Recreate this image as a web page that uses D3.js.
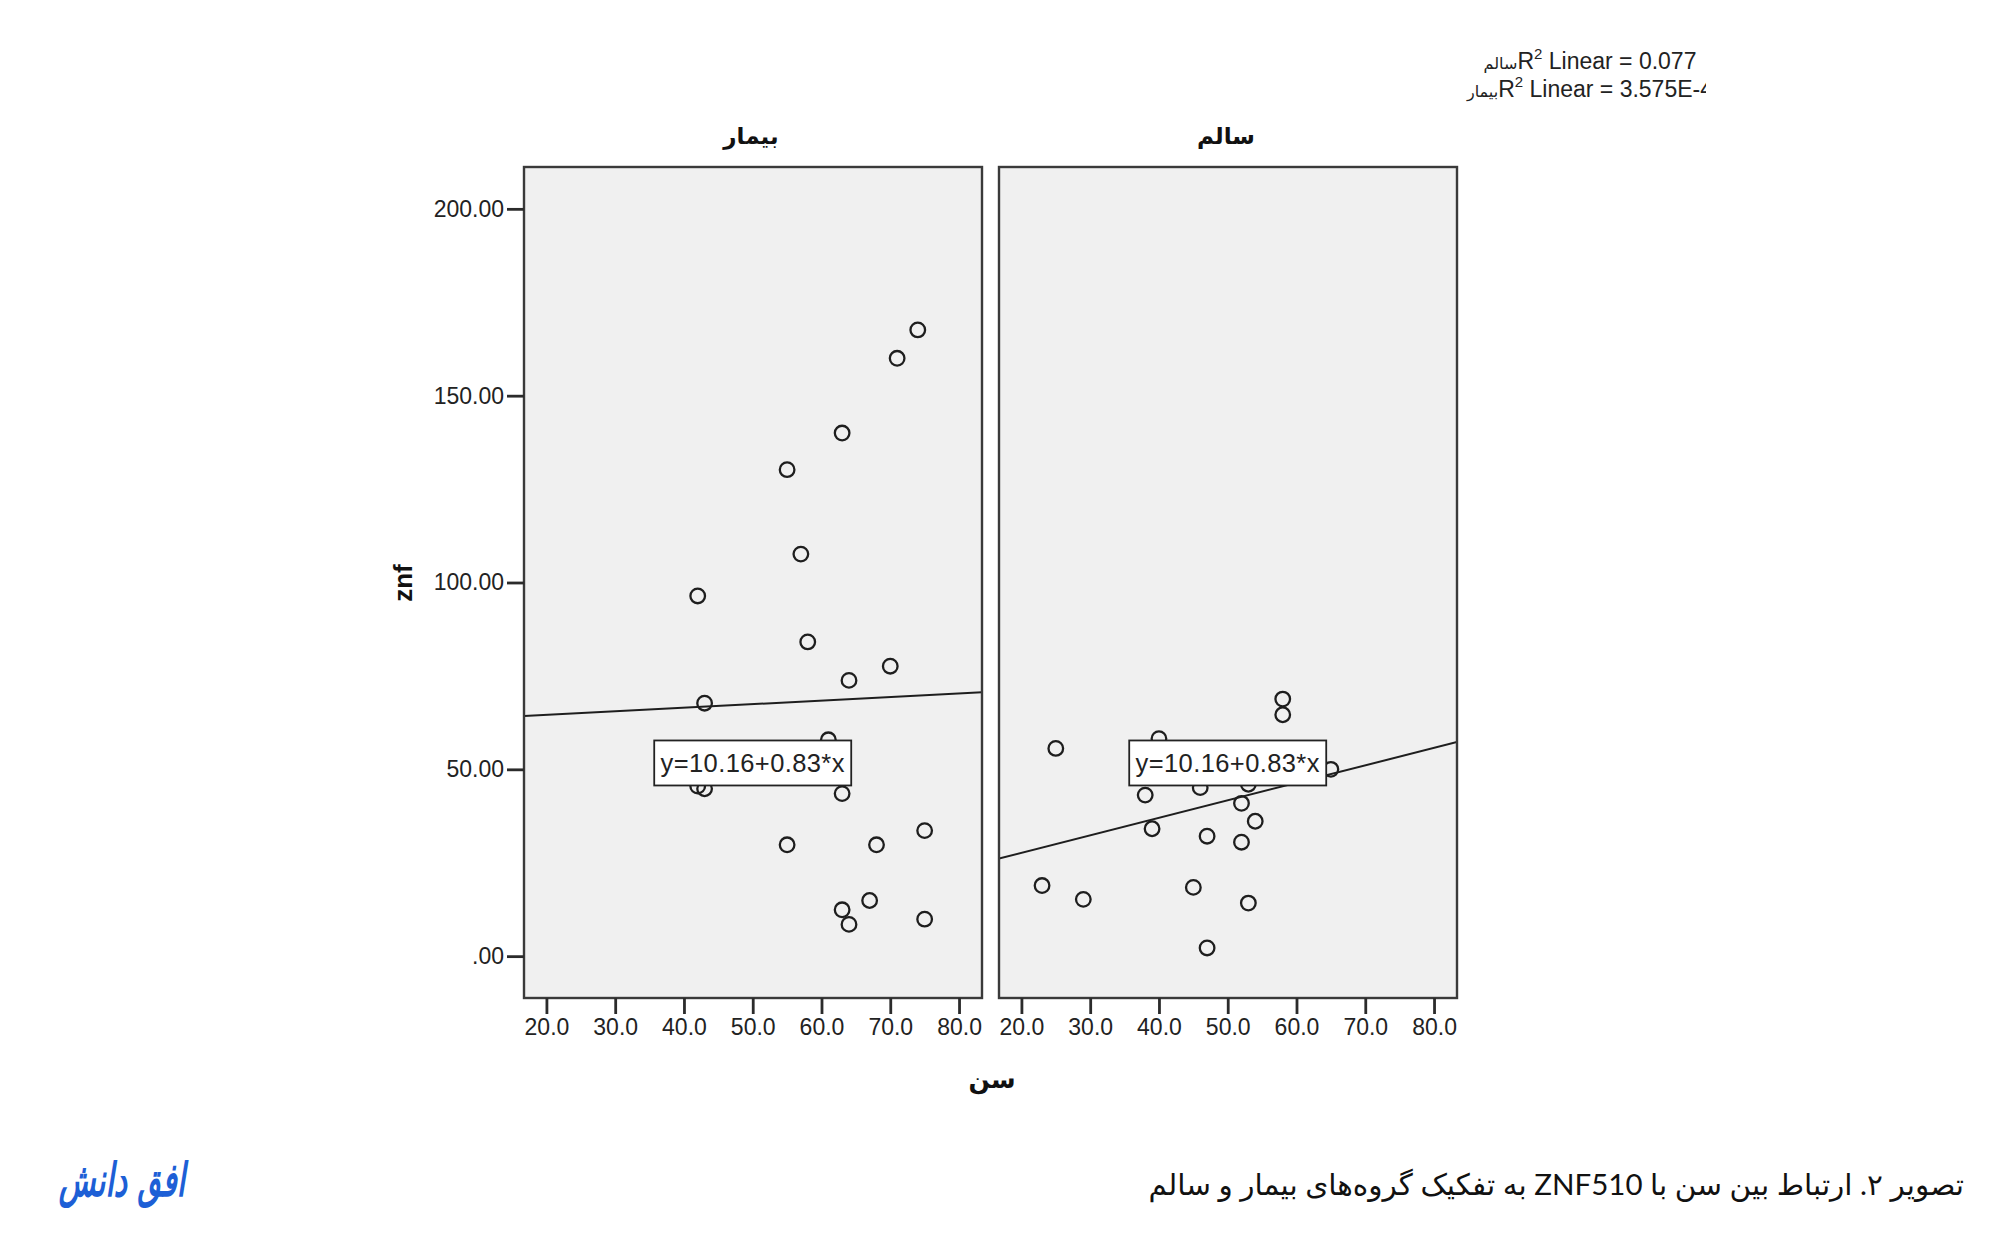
<!DOCTYPE html>
<html><head><meta charset="utf-8">
<script src="https://cdn.jsdelivr.net/npm/d3@7"></script>
<style>body{margin:0;background:#fff} svg{display:block}</style>
</head><body>
<svg id="c" width="2000" height="1259"></svg>
<script>
// ---------- data ----------
const panelNames = ["بیمار", "سالم"];
const patientAge = [74, 71, 63, 55, 57, 42, 58, 70, 64, 43, 61, 42, 43, 63, 55, 68, 75, 67, 63, 64, 75];
const patientZnf = [167.6, 160.0, 140.0, 130.2, 107.6, 96.4, 84.1, 77.6, 73.8, 67.7, 57.9, 45.5, 44.8, 43.5, 29.8, 29.8, 33.6, 14.9, 12.4, 8.5, 9.9];
const healthyAge = [58, 58, 25, 40, 65, 38, 46, 53, 52, 54, 39, 47, 52, 23, 29, 45, 53, 47];
const healthyZnf = [68.8, 64.6, 55.6, 58.2, 50.0, 43.1, 45.1, 46.0, 40.9, 36.1, 34.1, 32.1, 30.5, 18.9, 15.2, 18.4, 14.2, 2.2];
const fitIntercept = [62.7, 18.3];
const fitSlope = [0.095, 0.468];
const fitLabel = "y=10.16+0.83*x";
const fitLabelAt = [50, 51.7];
const legendGroups = ["سالم", "بیمار"];
const legendValues = ["0.077", "3.575E-4"];
const xTicks = [20, 30, 40, 50, 60, 70, 80];
const xTickLabels = ["20.0", "30.0", "40.0", "50.0", "60.0", "70.0", "80.0"];
const yTicks = [0, 50, 100, 150, 200];
const yTickLabels = [".00", "50.00", "100.00", "150.00", "200.00"];
const xTitle = "سن";
const yTitle = "znf";
const caption = "تصویر ۲. ارتباط بین سن با ZNF510 به تفکیک گروه‌های بیمار و سالم";
const logoText = "افق دانش";

// ---------- layout ----------
const svg = d3.select("#c");
const panelX0 = [524, 999];
const panelW = 458, panelTop = 167, panelBottom = 998;
const xDomain = [16.74, 83.34];
const yDomain = [-11.2, 211.2];
const FONT = "'Liberation Sans', Arial, 'DejaVu Sans', sans-serif";
const ink = "#2b2b2b";

const y = d3.scaleLinear().domain(yDomain).range([panelBottom, panelTop]);

const seriesAge = [patientAge, healthyAge];
const seriesZnf = [patientZnf, healthyZnf];

const defs = svg.append("defs");

panelX0.forEach((x0, p) => {
  const x = d3.scaleLinear().domain(xDomain).range([x0, x0 + panelW]);
  const clipId = "clip" + p;
  defs.append("clipPath").attr("id", clipId)
    .append("rect").attr("x", x0).attr("y", panelTop).attr("width", panelW).attr("height", panelBottom - panelTop);

  svg.append("rect").attr("x", x0).attr("y", panelTop).attr("width", panelW).attr("height", panelBottom - panelTop)
    .attr("fill", "#f0f0f0");

  const g = svg.append("g").attr("clip-path", `url(#${clipId})`);
  const pts = seriesAge[p].map((a, i) => ({a, z: seriesZnf[p][i]}));
  g.selectAll("circle").data(pts).enter().append("circle")
    .attr("cx", d => x(d.a)).attr("cy", d => y(d.z)).attr("r", 7.3)
    .attr("fill", "none").attr("stroke", "#1e1e1e").attr("stroke-width", 2.3);

  const line = d3.line().x(d => x(d)).y(d => y(fitIntercept[p] + fitSlope[p] * d));
  g.append("path").attr("d", line(xDomain)).attr("stroke", "#1e1e1e").attr("stroke-width", 2).attr("fill", "none");

  // fit label box
  const bw = 197, bh = 45;
  const cx = x(fitLabelAt[0]), cy = y(fitLabelAt[1]);
  svg.append("rect").attr("x", cx - bw / 2).attr("y", cy - bh / 2).attr("width", bw).attr("height", bh)
    .attr("fill", "#fff").attr("stroke", "#222").attr("stroke-width", 1.8);
  svg.append("text").attr("x", cx).attr("y", cy).attr("dy", "0.36em").attr("text-anchor", "middle")
    .attr("font-family", FONT).attr("font-size", 25.5).attr("letter-spacing", 0.4).attr("fill", "#222").text(fitLabel);

  // frame
  svg.append("rect").attr("x", x0).attr("y", panelTop).attr("width", panelW).attr("height", panelBottom - panelTop)
    .attr("fill", "none").attr("stroke", "#3a3a3a").attr("stroke-width", 2.4);

  // x axis
  const xa = svg.append("g").attr("transform", `translate(0,${panelBottom})`)
    .call(d3.axisBottom(x).tickValues(xTicks).tickFormat((d, i) => xTickLabels[i]).tickSize(16).tickPadding(5));
  xa.select(".domain").remove();
  xa.selectAll(".tick line").attr("stroke", ink).attr("stroke-width", 2.8);
  xa.selectAll(".tick text").attr("font-family", FONT).attr("font-size", 23).attr("fill", "#222");

  // panel title
  svg.append("text").attr("x", x0 + panelW / 2 - 2).attr("y", 144).attr("text-anchor", "middle")
    .attr("font-family", "'DejaVu Sans', sans-serif").attr("font-weight", "bold").attr("font-size", 23)
    .attr("fill", "#111").text(panelNames[p]);
});

// y axis (left panel only)
const ya = svg.append("g").attr("transform", `translate(${panelX0[0]},0)`)
  .call(d3.axisLeft(y).tickValues(yTicks).tickFormat((d, i) => yTickLabels[i]).tickSize(17).tickPadding(3));
ya.select(".domain").remove();
ya.selectAll(".tick line").attr("stroke", ink).attr("stroke-width", 2.8);
ya.selectAll(".tick text").attr("font-family", FONT).attr("font-size", 23).attr("fill", "#222");

// axis titles
svg.append("text").attr("transform", "translate(403,583) rotate(-90)").attr("dy", "0.36em")
  .attr("text-anchor", "middle").attr("font-family", FONT).attr("font-weight", "bold").attr("font-size", 26)
  .attr("fill", "#111").text(yTitle);
svg.append("text").attr("x", 992).attr("y", 1088).attr("text-anchor", "middle")
  .attr("font-family", "'DejaVu Sans', sans-serif").attr("font-weight", "bold").attr("font-size", 25)
  .attr("fill", "#111").text(xTitle);

// legend
defs.append("clipPath").attr("id", "legclip").append("rect").attr("x", 1400).attr("y", 30).attr("width", 306).attr("height", 90);
const leg = svg.append("g").attr("clip-path", "url(#legclip)");
const legBase = [69, 97];
legendGroups.forEach((grp, i) => {
  const row = leg.append("g");
  const ar = row.append("text").attr("x", 0).attr("y", legBase[i]).attr("text-anchor", "end")
    .attr("font-family", "'DejaVu Sans', sans-serif").attr("font-size", 16).attr("fill", "#222").text(grp);
  const t = row.append("text").attr("x", 0).attr("y", legBase[i])
    .attr("font-family", FONT).attr("font-size", 23).attr("fill", "#222");
  t.append("tspan").text("R");
  t.append("tspan").attr("font-size", 15).attr("dy", -10).text("2");
  t.append("tspan").attr("dy", 10).text(" Linear = " + legendValues[i]);
  const wA = ar.node().getComputedTextLength();
  const wT = t.node().getComputedTextLength();
  const total = wA + wT;
  row.attr("transform", `translate(${1590 - total / 2 + wA},0)`);
});

// caption
svg.append("text").attr("x", 1964).attr("y", 1195).attr("direction", "rtl").attr("text-anchor", "start")
  .style("direction", "rtl").style("unicode-bidi", "embed")
  .attr("font-family", "Lato, 'DejaVu Sans', sans-serif").attr("font-size", 29.5).attr("fill", "#111").text(caption);

// logo
svg.append("text").attr("transform", "translate(122,1196) scale(1,1.55)").attr("text-anchor", "middle")
  .attr("font-family", "'DejaVu Sans', sans-serif").attr("font-style", "italic").attr("font-weight", "bold")
  .attr("font-size", 30).attr("fill", "#1d5fd6").text(logoText);
</script>
</body></html>
